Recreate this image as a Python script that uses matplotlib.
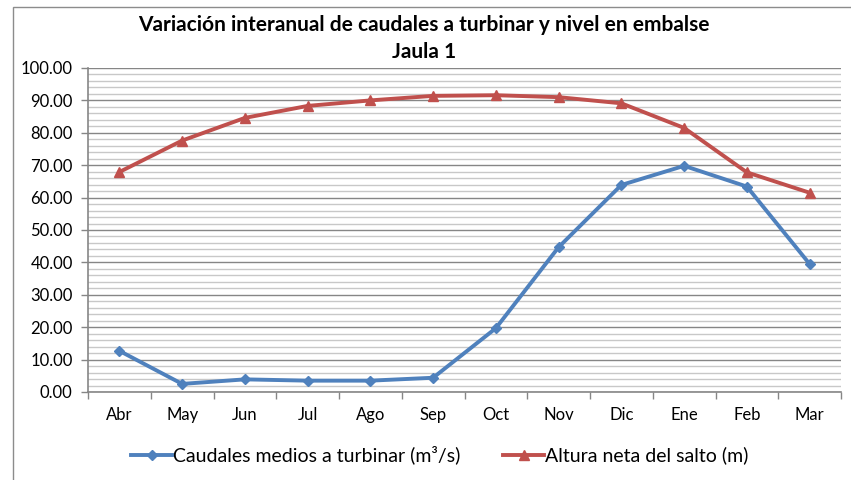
#!/usr/bin/env python3
import matplotlib
matplotlib.use("Agg")
import matplotlib.pyplot as plt
from matplotlib.patches import Rectangle
from matplotlib.ticker import MultipleLocator, FixedLocator

plt.rcParams["font.family"] = ["Lato", "DejaVu Sans"]

months = ["Abr", "May", "Jun", "Jul", "Ago", "Sep", "Oct", "Nov", "Dic", "Ene", "Feb", "Mar"]
caudales = [12.7, 2.5, 3.9, 3.5, 3.5, 4.4, 19.7, 44.7, 63.9, 69.8, 63.4, 39.5]
altura = [67.9, 77.6, 84.6, 88.3, 90.0, 91.4, 91.6, 91.0, 89.1, 81.5, 67.8, 61.5]

BLUE = "#4F81BD"
RED = "#C0504D"
GRID_MAJOR = "#868686"
GRID_MINOR = "#C8C8C8"

fig = plt.figure(figsize=(8.51, 4.80), dpi=100)
ax = fig.add_axes([88 / 851, 1 - 392 / 480, 753 / 851, 324 / 480])

x = list(range(len(months)))
ax.plot(x, caudales, color=BLUE, lw=2.8, marker="D", ms=5.5,
        label="Caudales medios a turbinar (m³/s)", zorder=3)
ax.plot(x, altura, color=RED, lw=2.8, marker="^", ms=7,
        label="Altura neta del salto (m)", zorder=3)

ax.set_xlim(-0.5, len(months) - 0.5)
ax.set_ylim(0, 100)

ax.yaxis.set_major_locator(MultipleLocator(10))
ax.yaxis.set_minor_locator(MultipleLocator(2))
ax.yaxis.set_major_formatter(lambda v, pos: f"{v:.2f}")
ax.grid(which="major", axis="y", color=GRID_MAJOR, lw=1.0, zorder=1)
ax.grid(which="minor", axis="y", color=GRID_MINOR, lw=1.0, zorder=1)

# category labels centred, tick marks on the boundaries
ax.set_xticks(x)
ax.set_xticklabels(months)
ax.xaxis.set_minor_locator(FixedLocator([i - 0.5 for i in range(len(months) + 1)]))
ax.tick_params(axis="x", which="major", length=0, pad=11, labelsize=12)
ax.tick_params(axis="x", which="minor", length=5, color=GRID_MAJOR, width=1)
ax.tick_params(axis="y", which="major", length=5, color=GRID_MAJOR, width=1, labelsize=12, pad=6)
ax.tick_params(axis="y", which="minor", length=0)

for side in ("top", "right"):
    ax.spines[side].set_visible(False)
for side in ("left", "bottom"):
    ax.spines[side].set_color(GRID_MAJOR)
    ax.spines[side].set_linewidth(1.2)

fig.text(0.498, 1 - 25 / 480, "Variación interanual de caudales a turbinar y nivel en embalse",
         ha="center", va="center", fontsize=15, fontweight="bold")
fig.text(0.498, 1 - 52 / 480, "Jaula 1", ha="center", va="center", fontsize=15, fontweight="bold")

fig.legend(loc="center", bbox_to_anchor=(0.517, 1 - 455 / 480), ncol=2, frameon=False,
           fontsize=14, handlelength=2.1, handletextpad=0.05, columnspacing=2.2, numpoints=1)

fig.patches.append(Rectangle((13 / 851, -0.05), 1.0, 1 - 7 / 480 + 0.05,
                             transform=fig.transFigure, fill=False,
                             edgecolor="#8C8C8C", lw=1.0))

fig.savefig("out.png", dpi=100, facecolor="white")
